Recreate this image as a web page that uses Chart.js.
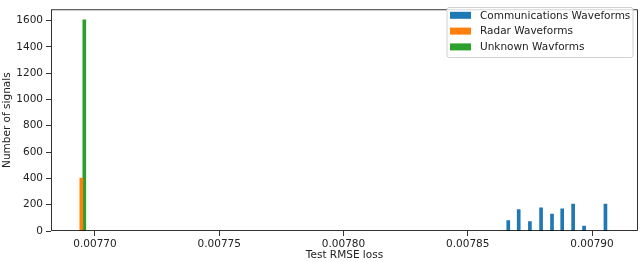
<!DOCTYPE html>
<html>
<head>
<meta charset="utf-8">
<script src="https://cdn.jsdelivr.net/npm/chart.js@4/dist/chart.umd.min.js"></script>
<style>
html,body{margin:0;padding:0;background:#fff;}
#wrap{width:640px;height:262px;position:relative;}
</style>
</head>
<body>
<div id="wrap"><canvas id="c" width="640" height="262"></canvas></div>
<script>
// Bin positions (RMSE loss) and counts
const commX = [0.0078663, 0.0078705, 0.0078750, 0.0078795, 0.0078839, 0.0078880, 0.0078924, 0.0078968, 0.0079054];
const commY = [80, 162, 71, 176, 128, 169, 205, 37, 205];
const radarX = [0.0076945];
const radarY = [402];
const unknownX = [0.0076957];
const unknownY = [1605];
const xTicks = [0.00770, 0.00775, 0.00780, 0.00785, 0.00790];
const yTicks = [0, 200, 400, 600, 800, 1000, 1200, 1400, 1600];
const labels = ['Communications Waveforms', 'Radar Waveforms', 'Unknown Wavforms'];
const colors = ['#1f77b4', '#ff7f0e', '#2ca02c'];

const pts = (xs, ys) => xs.map((x, i) => ({x: x, y: ys[i]}));
const FONT = 'DejaVu Sans';
const FS = 10.5;

const framePlugin = {
  id: 'frame',
  afterDraw(chart) {
    const ctx = chart.ctx, a = chart.chartArea;
    ctx.save();
    ctx.strokeStyle = '#000';
    ctx.lineWidth = 0.8;
    ctx.strokeRect(a.left + 0.5, a.top + 0.5, a.right - a.left - 1, a.bottom - a.top - 1);
    // legend
    const lx = 447, ly = 7.5, lw = 186, lh = 50;
    ctx.fillStyle = 'rgba(255,255,255,0.8)';
    ctx.strokeStyle = '#d0d0d0';
    ctx.lineWidth = 1;
    const r = 2;
    ctx.beginPath();
    ctx.moveTo(lx + r, ly);
    ctx.lineTo(lx + lw - r, ly); ctx.quadraticCurveTo(lx + lw, ly, lx + lw, ly + r);
    ctx.lineTo(lx + lw, ly + lh - r); ctx.quadraticCurveTo(lx + lw, ly + lh, lx + lw - r, ly + lh);
    ctx.lineTo(lx + r, ly + lh); ctx.quadraticCurveTo(lx, ly + lh, lx, ly + lh - r);
    ctx.lineTo(lx, ly + r); ctx.quadraticCurveTo(lx, ly, lx + r, ly);
    ctx.closePath();
    ctx.fill(); ctx.stroke();
    ctx.font = FS + 'px "' + FONT + '"';
    ctx.textBaseline = 'middle';
    chart.data.datasets.forEach((ds, i) => {
      const cy = 15.3 + i * 15.8;
      ctx.fillStyle = ds.backgroundColor;
      ctx.fillRect(450, cy - 3.5, 21, 7);
      ctx.fillStyle = '#222';
      ctx.fillText(ds.label, 480, cy + 0.5);
    });
    ctx.restore();
  }
};

new Chart(document.getElementById('c'), {
  type: 'bar',
  data: {
    datasets: [
      {label: labels[0], data: pts(commX, commY), backgroundColor: colors[0]},
      {label: labels[1], data: pts(radarX, radarY), backgroundColor: colors[1]},
      {label: labels[2], data: pts(unknownX, unknownY), backgroundColor: colors[2]}
    ]
  },
  options: {
    responsive: false,
    animation: false,
    devicePixelRatio: 1,
    layout: {padding: {left: 0, right: 2, top: 2, bottom: 0}},
    datasets: {bar: {barThickness: 3, grouped: false, borderWidth: 0}},
    plugins: {legend: {display: false}, tooltip: {enabled: false}},
    scales: {
      x: {
        type: 'linear',
        offset: false,
        min: 0.0076823,
        max: 0.0079185,
        afterBuildTicks: s => { s.ticks = xTicks.map(v => ({value: v})); },
        afterFit: s => { s.height = 31; },
        grid: {offset: false, drawOnChartArea: false, drawTicks: true, tickLength: 5, color: '#000', lineWidth: 0.8},
        border: {display: false},
        ticks: {
          color: '#222', font: {family: FONT, size: FS}, padding: 2, maxRotation: 0, autoSkip: false,
          callback: v => v.toFixed(5)
        },
        title: {display: true, text: 'Test RMSE loss', color: '#222', font: {family: FONT, size: FS}, padding: {top: 3, bottom: 0}}
      },
      y: {
        type: 'linear',
        min: 0,
        max: 1685,
        afterBuildTicks: s => { s.ticks = yTicks.map(v => ({value: v})); },
        afterFit: s => { s.width = 51; },
        grid: {drawOnChartArea: false, drawTicks: true, tickLength: 5, color: '#000', lineWidth: 0.8},
        border: {display: false},
        ticks: {color: '#222', font: {family: FONT, size: FS}, padding: 3, autoSkip: false, callback: v => String(v)},
        title: {display: true, text: 'Number of signals', color: '#222', font: {family: FONT, size: FS}, padding: {top: 1, bottom: 0}}
      }
    }
  },
  plugins: [framePlugin]
});
</script>
</body>
</html>
